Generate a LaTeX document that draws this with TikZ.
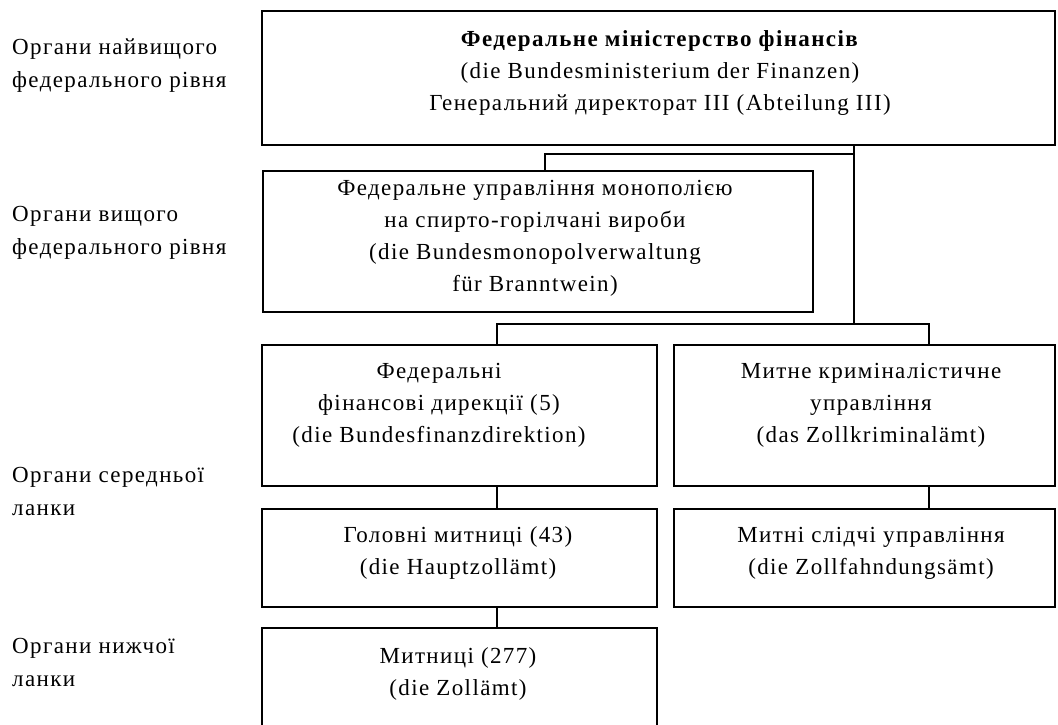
\documentclass[tikz,border=0pt]{standalone}
\usepackage{fontspec}
\setmainfont{Liberation Serif}[LetterSpace=6]
\begin{document}
\begin{tikzpicture}[x=1pt,y=-1pt,
  boxnode/.style={draw, line width=1.6pt, rectangle, inner sep=0pt, outer sep=0pt},
  conn/.style={line width=2.6pt},
  heavy/.style={line width=2.6pt},
  txt/.style={align=center, inner sep=0pt, font=\fontsize{23}{32}\selectfont},
  lbl/.style={align=left, anchor=west, inner sep=0pt, font=\fontsize{23}{33}\selectfont}]
\useasboundingbox (0,0) rectangle (1058,724);
\clip (0,0) rectangle (1058,724);
\fill[white] (0,0) rectangle (1058,724);
% boxes
\node[boxnode, minimum width=793pt, minimum height=134pt] (b1) at (658.5,78) {};
\node[boxnode, minimum width=550pt, minimum height=141pt] (b2) at (538,241.5) {};
\node[boxnode, minimum width=395pt, minimum height=141pt] (r3l) at (459.5,415.5) {};
\node[boxnode, minimum width=381pt, minimum height=141pt] (r3r) at (864.5,415.5) {};
\node[boxnode, minimum width=395pt, minimum height=98pt] (r4l) at (459.5,558) {};
\node[boxnode, minimum width=381pt, minimum height=98pt] (r4r) at (864.5,558) {};
\node[boxnode, minimum width=395pt, minimum height=140pt] (r5) at (459.5,698) {};
\foreach \n in {b1,b2,r3l,r3r,r4l,r4r}{
  \draw[heavy] (\n.south west) -- (\n.south east);
}
% texts
\node[txt] (t1) at (660,73) {\textbf{Федеральне міністерство фінансів}\\(die Bundesministerium der Finanzen)\\Генеральний директорат III (Abteilung III)};
\node[txt] (t2) at (535,238) {Федеральне управління монополією\\на спирто-горілчані вироби\\(die Bundesmonopolverwaltung\\für Branntwein)};
\node[txt] (t3l) at (439,405) {Федеральні\\фінансові дирекції (5)\\(die Bundesfinanzdirektion)};
\node[txt] (t3r) at (871,405) {Митне криміналістичне\\управління\\(das Zollkriminalämt)};
\node[txt] (t4l) at (458,553) {Головні митниці (43)\\(die Hauptzollämt)};
\node[txt] (t4r) at (871,553) {Митні слідчі управління\\(die Zollfahndungsämt)};
\node[txt] (t5) at (458,674) {Митниці (277)\\(die Zollämt)};
% level labels
\node[lbl] (l1) at (12,66) {Органи найвищого\\федерального рівня};
\node[lbl] (l2) at (12,233) {Органи вищого\\федерального рівня};
\node[lbl] (l3) at (12,491) {Органи середньої\\ланки};
\node[lbl] (l4) at (12,662) {Органи нижчої\\ланки};
% connectors
\coordinate (j1) at (854,154);
\coordinate (j2) at (854,324);
\draw[conn] (b1.south -| j1) -- (j2);
\draw[conn] (j1) -| ([xshift=7pt]b2.north);
\draw[conn] ([xshift=37.5pt]r3l.north) |- (j2) -| ([xshift=64.5pt]r3r.north);
\draw[conn] ([xshift=37.5pt]r3l.south) -- ([xshift=37.5pt]r4l.north);
\draw[conn] ([xshift=64.5pt]r3r.south) -- ([xshift=64.5pt]r4r.north);
\draw[conn] ([xshift=37.5pt]r4l.south) -- ([xshift=37.5pt]r5.north);
\end{tikzpicture}
\end{document}
